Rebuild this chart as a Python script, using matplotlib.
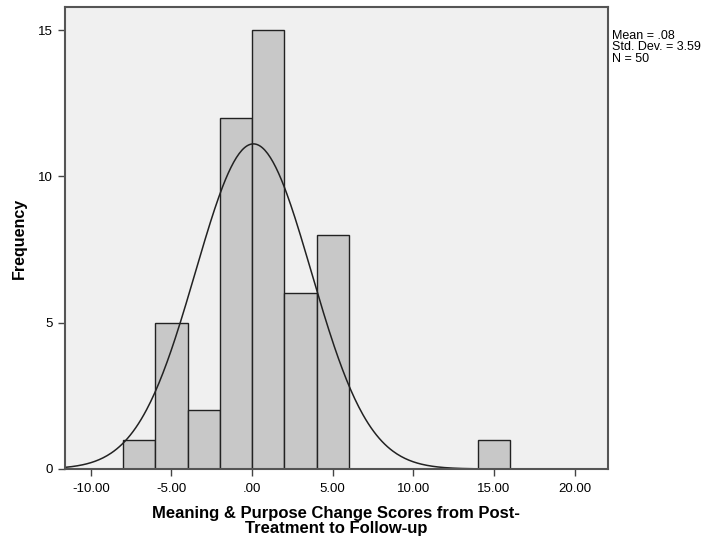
import numpy as np
import matplotlib
matplotlib.use("Agg")
import matplotlib.pyplot as plt

plt.rcParams['font.family'] = ['Liberation Sans', 'DejaVu Sans']

# histogram bins (width 2) and counts
bin_left = [-8, -6, -4, -2, 0, 2, 4, 14]
counts = [1, 5, 2, 12, 15, 6, 8, 1]
bin_width = 2
mean, sd, n = 0.08, 3.59, 50

x_ticks = [-10, -5, 0, 5, 10, 15, 20]
x_labels = ['-10.00', '-5.00', '.00', '5.00', '10.00', '15.00', '20.00']
y_ticks = [0, 5, 10, 15]

fig = plt.figure(figsize=(7.16, 5.42), dpi=100)
ax = fig.add_axes([0.0908, 0.1347, 0.758, 0.8523])
ax.set_facecolor('#f0f0f0')

ax.bar(bin_left, counts, width=bin_width, align='edge',
       color='#c8c8c8', edgecolor='#222222', linewidth=1.0)

# normal curve scaled to counts
xs = np.linspace(-11.6, 22.05, 400)
ys = n * bin_width * np.exp(-0.5 * ((xs - mean) / sd) ** 2) / (sd * np.sqrt(2 * np.pi))
ax.plot(xs, ys, color='#222222', linewidth=1.1)

ax.set_xlim(-11.6, 22.05)
ax.set_ylim(0, 15.79)
ax.set_xticks(x_ticks)
ax.set_xticklabels(x_labels)
ax.set_yticks(y_ticks)
ax.tick_params(direction='out', length=5, width=1, labelsize=9.5, color='#444444')
ax.tick_params(axis='x', pad=5)

for s in ax.spines.values():
    s.set_color('#555555')
    s.set_linewidth(1.5)

ax.set_xlabel('Meaning & Purpose Change Scores from Post-\nTreatment to Follow-up',
              fontsize=12, fontweight='bold', linespacing=1.0, labelpad=8)
ax.set_ylabel('Frequency', fontsize=11.5, fontweight='bold', labelpad=8)

fig.text(0.855, 0.945, 'Mean = .08\nStd. Dev. = 3.59\nN = 50',
         fontsize=9, va='top', ha='left', linespacing=0.95)

fig.savefig('out.png', dpi=100)
